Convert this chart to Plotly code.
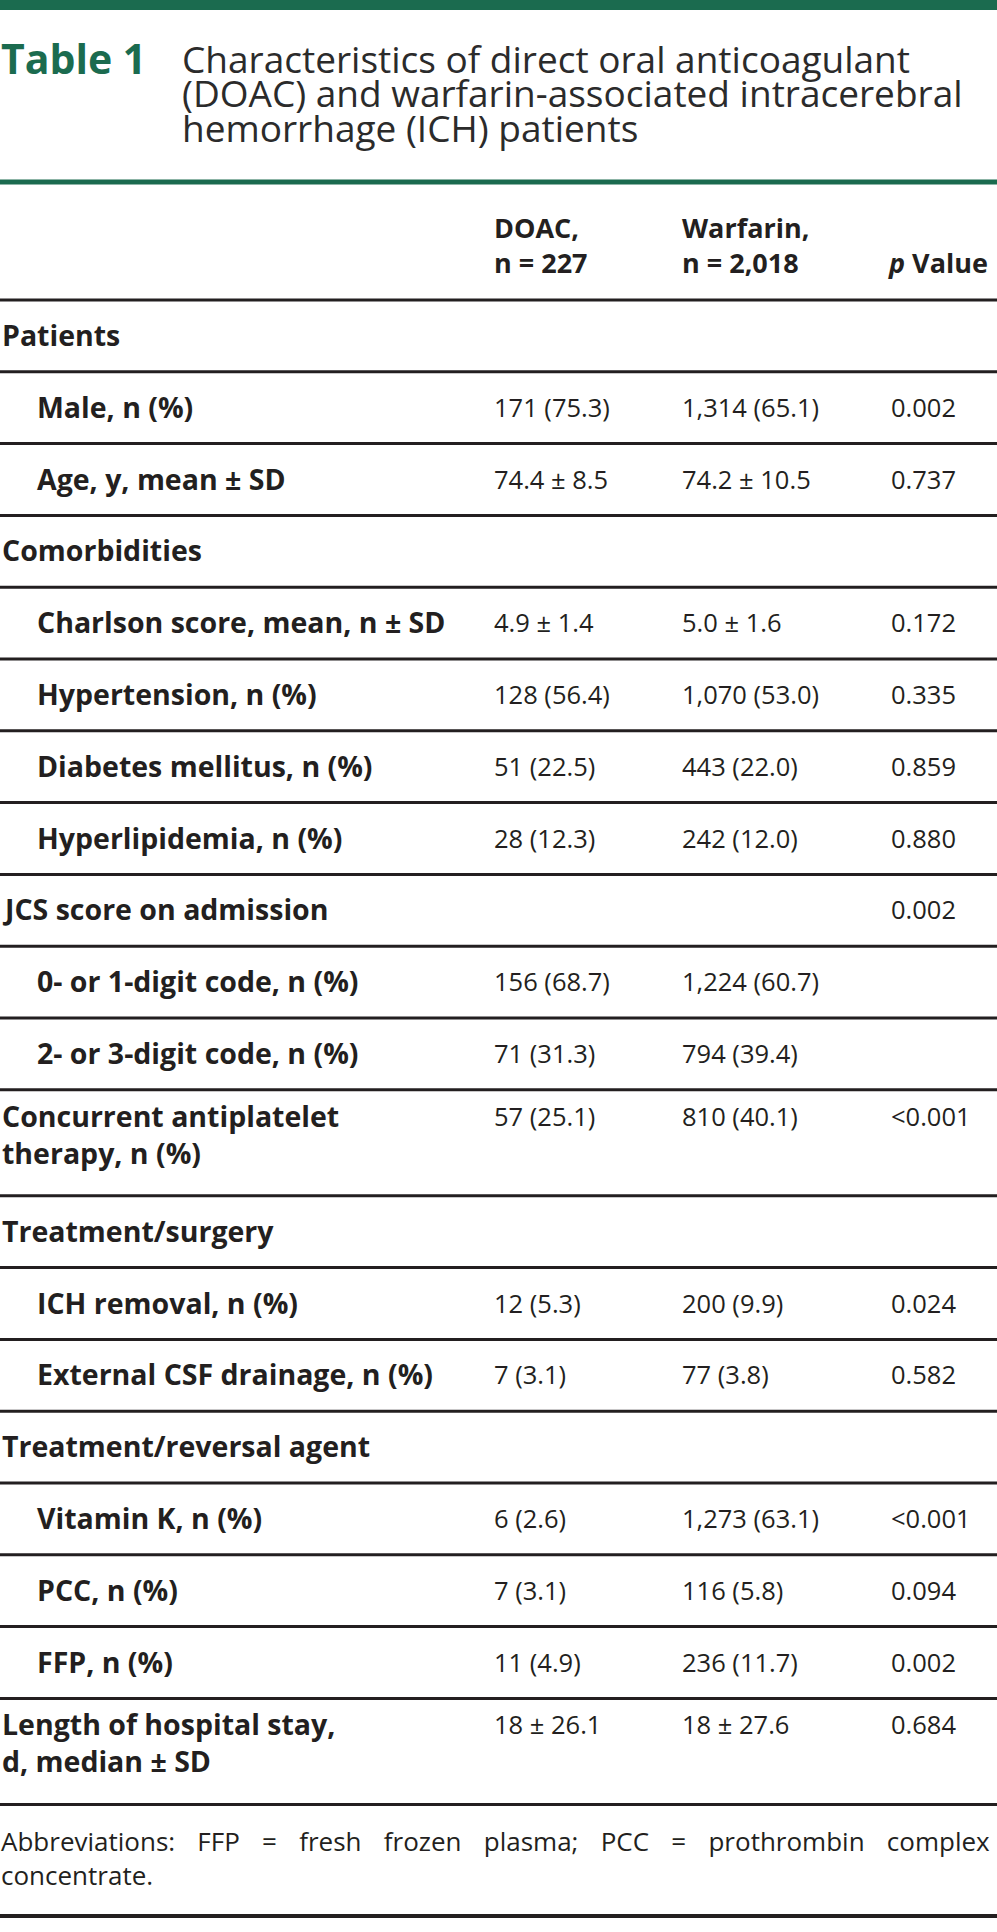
import plotly.graph_objects as go

# table content
labels = ["Patients", "Male, n (%)", "Age, y, mean ± SD", "Comorbidities",
          "Charlson score, mean, n ± SD", "Hypertension, n (%)",
          "Diabetes mellitus, n (%)", "Hyperlipidemia, n (%)",
          "JCS score on admission", "0- or 1-digit code, n (%)",
          "2- or 3-digit code, n (%)", "Concurrent antiplatelet<br>therapy, n (%)",
          "Treatment/surgery", "ICH removal, n (%)", "External CSF drainage, n (%)",
          "Treatment/reversal agent", "Vitamin K, n (%)", "PCC, n (%)", "FFP, n (%)",
          "Length of hospital stay,<br>d, median ± SD"]
indent = [0, 1, 1, 0, 1, 1, 1, 1, 0, 1, 1, 0, 0, 1, 1, 0, 1, 1, 1, 0]
doac = ["", "171 (75.3)", "74.4 ± 8.5", "", "4.9 ± 1.4", "128 (56.4)", "51 (22.5)",
        "28 (12.3)", "", "156 (68.7)", "71 (31.3)", "57 (25.1)", "", "12 (5.3)",
        "7 (3.1)", "", "6 (2.6)", "7 (3.1)", "11 (4.9)", "18 ± 26.1"]
warfarin = ["", "1,314 (65.1)", "74.2 ± 10.5", "", "5.0 ± 1.6", "1,070 (53.0)",
            "443 (22.0)", "242 (12.0)", "", "1,224 (60.7)", "794 (39.4)", "810 (40.1)",
            "", "200 (9.9)", "77 (3.8)", "", "1,273 (63.1)", "116 (5.8)", "236 (11.7)",
            "18 ± 27.6"]
pvals = ["", "0.002", "0.737", "", "0.172", "0.335", "0.859", "0.880", "0.002", "",
         "", "<0.001", "", "0.024", "0.582", "", "<0.001", "0.094", "0.002", "0.684"]
headers = ["DOAC,<br>n = 227", "Warfarin,<br>n = 2,018", " <br><i>p</i> Value"]
title_tag = "Table 1"
title_text = ["Characteristics of direct oral anticoagulant",
              "(DOAC) and warfarin-associated intracerebral",
              "hemorrhage (ICH) patients"]
footnote = ["Abbreviations: FFP = fresh frozen plasma; PCC = prothrombin complex",
            "concentrate."]

W, H = 997, 1932
GREEN = "#1b6b4f"
INK = "#231f20"
FONT = "Open Sans"
col_x = [493, 681, 890]
label_x = [1, 36]

fig = go.Figure()
ann = []
shapes = []

def text(x, y, s, size=28, color=INK, bold=False):
    if bold:
        s = "<b>" + s + "</b>"
    ann.append(dict(x=x, y=y, xref="x", yref="y", text=s, showarrow=False,
                    xanchor="left", yanchor="middle", align="left", borderpad=0,
                    font=dict(family=FONT, size=size, color=color)))

def rule(y, color=INK, width=3):
    shapes.append(dict(type="line", xref="x", yref="y", x0=0, x1=W, y0=y, y1=y,
                       line=dict(color=color, width=width)))

# top bar and title
shapes.append(dict(type="rect", xref="x", yref="y", x0=0, x1=W, y0=0, y1=10,
                   fillcolor=GREEN, line=dict(width=0)))
text(0, 58, title_tag, size=41, color=GREEN, bold=True)
for i, t in enumerate(title_text):
    text(181, 58 + i * 34.5, t, size=37, color="#2b2b2b")
rule(182, GREEN, 5)

# column headers
for x, h in zip(col_x, headers):
    text(x - 3 if "Value" in h else x, 245, h, size=27, bold=True)

# body
y = 300
rule(y)
for lab, ind, a, b, p in zip(labels, indent, doac, warfarin, pvals):
    n = lab.count("<br>") + 1
    first = y + (35 if n == 1 else 26)
    text(label_x[ind], first + (n - 1) * 18.5, lab, size=28.5, bold=True)
    for x, v in zip(col_x, [a, b, p]):
        if v:
            text(x, first, v.replace("<", "&lt;"), size=25.5)
    y += 71.8 if n == 1 else 106
    rule(y)

# footnote, stretched to the full width like the justified original
text(0, y + 54, '<span style="word-spacing:15.5px">' + footnote[0] + "</span><br>"
     + footnote[1], size=26)
rule(1916, INK, 4)

fig.update_layout(
    width=W, height=H, margin=dict(l=0, r=0, t=0, b=0),
    paper_bgcolor="white", plot_bgcolor="white",
    xaxis=dict(range=[0, W], visible=False, fixedrange=True),
    yaxis=dict(range=[H, 0], visible=False, fixedrange=True),
    annotations=ann, shapes=shapes, showlegend=False,
)
fig.write_html("out.html", config=dict(displayModeBar=False),
               post_script="document.body.style.margin='0';")
